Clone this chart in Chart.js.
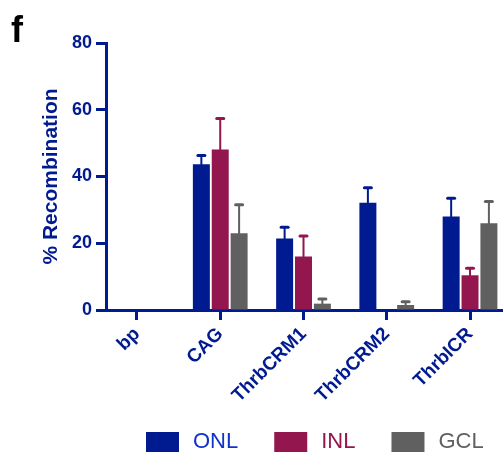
<!DOCTYPE html>
<html lang="en">
<head>
    <meta charset="UTF-8">
    <title>% Recombination by construct</title>
    <script src="https://cdn.jsdelivr.net/npm/chart.js@4.4.1/dist/chart.umd.min.js"></script>
    <style>
        body {
            margin: 0;
            background-color: white;
        }
    </style>
</head>
<body>
    <canvas id="recombChart" width="503" height="452"></canvas>

    <script>
        // Categories and series
        const constructs = ['bp', 'CAG', 'ThrbCRM1', 'ThrbCRM2', 'ThrbICR'];
        const onlValues = [0, 43.7, 21.4, 32.1, 28.0];
        const inlValues = [0, 48.1, 16.0, 0, 10.4];
        const gclValues = [0, 23.0, 1.9, 1.5, 26.0];
        // upper error bars (SEM)
        const onlErrors = [0, 2.6, 3.4, 4.5, 5.5];
        const inlErrors = [0, 9.3, 6.2, 0, 2.1];
        const gclErrors = [0, 8.5, 1.4, 1.0, 6.5];
        const yTicks = [0, 20, 40, 60, 80];

        const navy = '#001a8f';
        const crimson = '#93174e';
        const grey = '#606060';
        const fontFamily = '"Liberation Sans", Arial, sans-serif';

        function toPoints(values) {
            return values.map((v, i) => ({ x: i, y: v }));
        }

        // Draws the one-sided error bars on top of each bar
        const errorBars = {
            id: 'errorBars',
            afterDatasetsDraw(chart) {
                const ctx = chart.ctx;
                const yScale = chart.scales.y;
                chart.data.datasets.forEach((ds, di) => {
                    const meta = chart.getDatasetMeta(di);
                    meta.data.forEach((bar, i) => {
                        const err = ds.errors[i];
                        if (!err) return;
                        const yTop = yScale.getPixelForValue(ds.data[i].y + err);
                        ctx.save();
                        ctx.strokeStyle = ds.backgroundColor;
                        ctx.lineCap = 'round';
                        ctx.lineWidth = 2;
                        ctx.beginPath();
                        ctx.moveTo(bar.x, bar.y);
                        ctx.lineTo(bar.x, yTop);
                        ctx.stroke();
                        ctx.lineWidth = 3;
                        ctx.beginPath();
                        ctx.moveTo(bar.x - 3.5, yTop);
                        ctx.lineTo(bar.x + 3.5, yTop);
                        ctx.stroke();
                        ctx.restore();
                    });
                });
            }
        };

        // Panel letter in the top-left corner
        const panelLetter = {
            id: 'panelLetter',
            afterDraw(chart) {
                const ctx = chart.ctx;
                ctx.save();
                ctx.fillStyle = '#000';
                ctx.font = 'bold 36px ' + fontFamily;
                ctx.textBaseline = 'alphabetic';
                ctx.fillText('f', 11, 42);
                ctx.restore();
            }
        };

        // Legend row under the axis: box, gap, coloured label
        const bottomLegend = {
            id: 'bottomLegend',
            afterDraw(chart) {
                const ctx = chart.ctx;
                const boxW = 33, boxH = 20, textGap = 14, itemGap = 36;
                ctx.save();
                ctx.font = '22px ' + fontFamily;
                ctx.textBaseline = 'middle';
                let x = chart.chartArea.left + 40;
                const y = 432;
                chart.data.datasets.forEach(ds => {
                    ctx.fillStyle = ds.backgroundColor;
                    ctx.fillRect(x, y, boxW, boxH);
                    x += boxW + textGap;
                    ctx.fillStyle = ds.textColor;
                    ctx.fillText(ds.label, x, 442);
                    x += ctx.measureText(ds.label).width + itemGap;
                });
                ctx.restore();
            }
        };

        const ctx = document.getElementById('recombChart').getContext('2d');
        new Chart(ctx, {
            type: 'bar',
            data: {
                datasets: [
                    { label: 'ONL', data: toPoints(onlValues), errors: onlErrors, backgroundColor: navy, textColor: '#1133cc' },
                    { label: 'INL', data: toPoints(inlValues), errors: inlErrors, backgroundColor: crimson, textColor: crimson },
                    { label: 'GCL', data: toPoints(gclValues), errors: gclErrors, backgroundColor: grey, textColor: grey }
                ]
            },
            options: {
                responsive: false,
                animation: false,
                layout: {
                    padding: { top: 43, left: 0, right: 0, bottom: 42 }
                },
                datasets: {
                    bar: {
                        categoryPercentage: 0.68,
                        barPercentage: 0.9
                    }
                },
                plugins: {
                    tooltip: { enabled: false },
                    legend: { display: false }
                },
                scales: {
                    x: {
                        type: 'linear',
                        offset: false,
                        bounds: 'data',
                        min: -0.372,
                        max: 4.396,
                        afterBuildTicks(scale) {
                            scale.ticks = constructs.map((c, i) => ({ value: i }));
                        },
                        afterFit(scale) {
                            scale.height = 100;
                        },
                        grid: {
                            offset: false,
                            drawOnChartArea: false,
                            tickLength: 10,
                            tickWidth: 3,
                            tickColor: navy
                        },
                        border: { color: navy, width: 3 },
                        ticks: {
                            autoSkip: false,
                            minRotation: 45,
                            maxRotation: 45,
                            padding: 3,
                            color: navy,
                            font: { family: fontFamily, size: 19, weight: 'bold' },
                            callback: (value, index) => constructs[index]
                        }
                    },
                    y: {
                        min: 0,
                        max: 80,
                        afterBuildTicks(scale) {
                            scale.ticks = yTicks.map(v => ({ value: v }));
                        },
                        afterFit(scale) {
                            scale.width = 106;
                        },
                        grid: {
                            drawOnChartArea: false,
                            tickLength: 10,
                            tickWidth: 3,
                            tickColor: navy
                        },
                        border: { color: navy, width: 3 },
                        ticks: {
                            padding: 4,
                            color: navy,
                            font: { family: fontFamily, size: 18, weight: 'bold' }
                        },
                        title: {
                            display: true,
                            text: '% Recombination',
                            color: navy,
                            padding: { top: 41, bottom: 0 },
                            font: { family: fontFamily, size: 21, weight: 'bold', lineHeight: 1 }
                        }
                    }
                }
            },
            plugins: [errorBars, panelLetter, bottomLegend]
        });
    </script>
</body>
</html>
